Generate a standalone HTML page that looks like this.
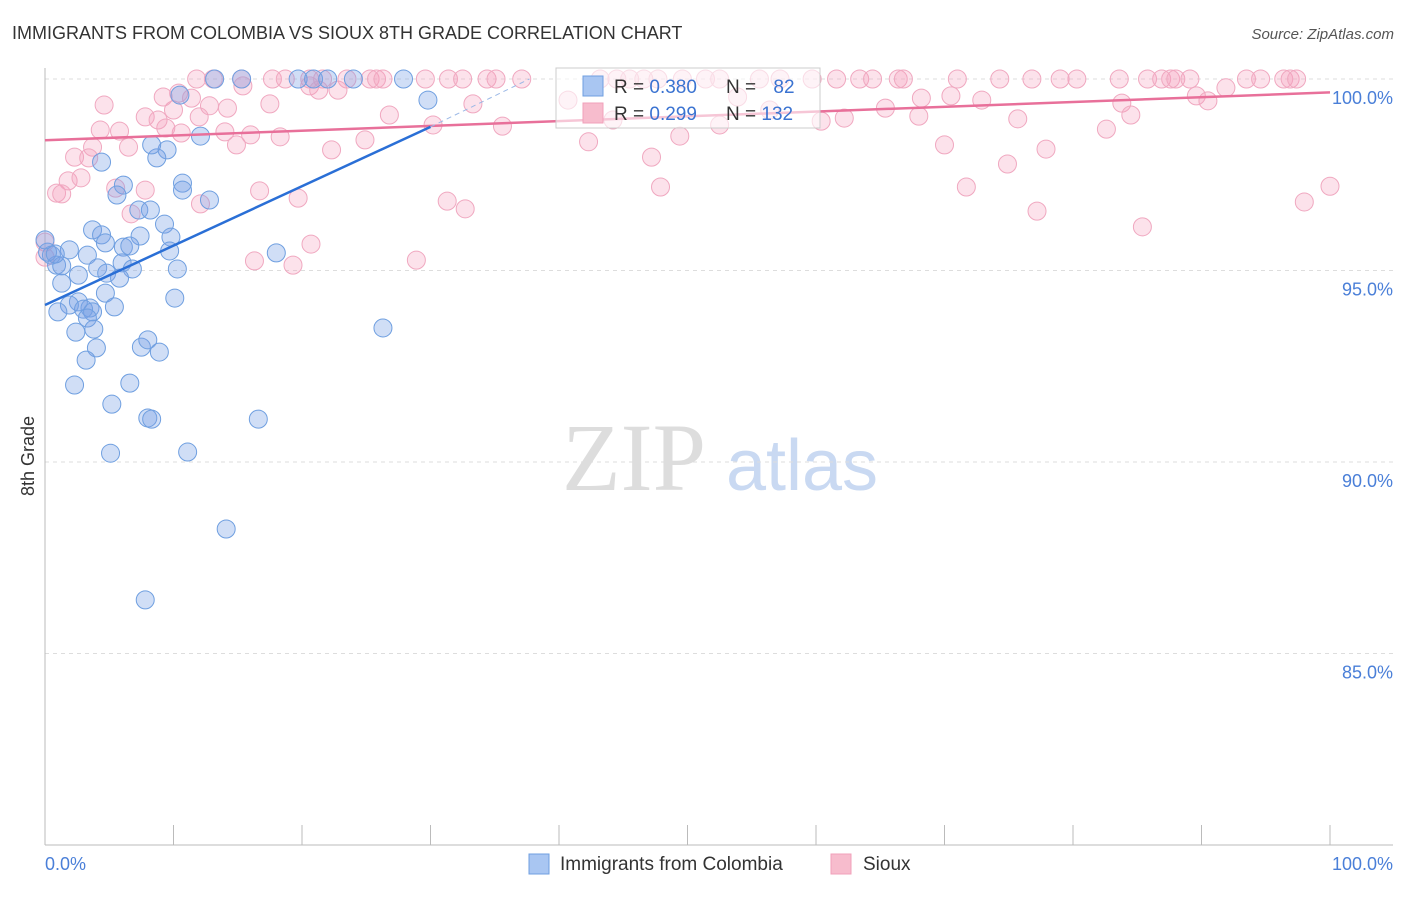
<!DOCTYPE html>
<html><head><meta charset="utf-8"><style>
body{margin:0;background:#fff;font-family:"Liberation Sans",sans-serif;}
</style></head><body>
<svg width="1406" height="892" xmlns="http://www.w3.org/2000/svg" style="font-family:'Liberation Sans',sans-serif">
<text x="12" y="39" font-size="18" fill="#333">IMMIGRANTS FROM COLOMBIA VS SIOUX 8TH GRADE CORRELATION CHART</text>
<text x="1394" y="39" font-size="15" fill="#555" font-style="italic" text-anchor="end">Source: ZipAtlas.com</text>
<g>
<text x="634" y="490" font-size="96" font-family="'Liberation Serif',serif" fill="#ddd" text-anchor="middle">ZIP</text>
<text x="802" y="490" font-size="72" fill="#c9d9f2" text-anchor="middle">atlas</text>
</g>
<g id="grid"></g>
<g id="axes"></g>
<text x="34" y="456" font-size="18" fill="#333" transform="rotate(-90 34 456)" text-anchor="middle">8th Grade</text>
<g id="pinkpts"></g>
<g id="bluepts"></g>
<g id="lines"></g>
<g>
<rect x="556" y="68" width="264" height="60" fill="#fff" fill-opacity="0.6" stroke="#ccc"/>
<rect x="583" y="76" width="20" height="20" fill="#a9c6f2" stroke="#6f9fe0"/>
<rect x="583" y="103" width="20" height="20" fill="#f7bccd" stroke="#f0a0ba"/>
<text x="614" y="93" font-size="19" fill="#333">R = <tspan fill="#3b73d1">0.380</tspan></text>
<text x="726" y="93" font-size="19" fill="#333">N = <tspan fill="#3b73d1" dx="12">82</tspan></text>
<text x="614" y="120" font-size="19" fill="#333">R = <tspan fill="#3b73d1">0.299</tspan></text>
<text x="726" y="120" font-size="19" fill="#333">N = <tspan fill="#3b73d1">132</tspan></text>
</g>
<g>
<rect x="529" y="854" width="20" height="20" fill="#a9c6f2" stroke="#6f9fe0"/>
<text x="560" y="870" font-size="19" fill="#333">Immigrants from Colombia</text>
<rect x="831" y="854" width="20" height="20" fill="#f7bccd" stroke="#f0a0ba"/>
<text x="863" y="870" font-size="19" fill="#333">Sioux</text>
</g>
</svg>
<script>
const yTicks=[100,95,90,85];
const yTickLabels=["100.0%","95.0%","90.0%","85.0%"];
const xTickLabels=["0.0%","100.0%"];
const blueX=[13.2,15.3,19.7,20.9,22.0,24.0,27.9,29.8,10.5,12.1,9.5,8.7,8.3,4.4,10.7,10.7,6.1,5.6,12.8,7.3,8.2,9.3,3.7,4.4,9.8,7.4,4.7,6.1,6.6,9.7,1.9,3.3,18.0,0.5,0.9,1.3,4.1,6.0,6.8,10.3,2.6,4.8,5.8,1.3,4.7,10.1,2.6,1.9,3.5,3.0,5.4,1.0,3.7,3.3,3.8,2.4,26.3,4.0,7.5,8.0,8.9,3.2,2.3,6.6,5.2,8.0,8.3,16.6,5.1,11.1,14.1,7.8,0.2,0.8,0];
const blueY=[100,100,100,100,100,100,100,99.45,99.58,98.51,98.15,97.94,98.28,97.83,97.28,97.10,97.23,96.97,96.84,96.58,96.58,96.21,96.06,95.93,95.87,95.90,95.72,95.61,95.64,95.51,95.54,95.40,95.46,95.40,95.14,95.12,95.07,95.20,95.04,95.04,94.88,94.93,94.80,94.67,94.41,94.28,94.18,94.10,94.02,93.99,94.05,93.92,93.92,93.76,93.47,93.39,93.50,92.98,93.00,93.19,92.87,92.66,92.01,92.06,91.51,91.15,91.12,91.12,90.23,90.26,88.25,86.40,95.48,95.43,95.80];
const pinkTopX=[11.8,13.1,15.3,17.7,18.7,20.6,21.6,23.5,25.3,25.8,26.3,29.6,31.4,32.5,34.4,35.1,37.1,43.2,44.5,45.5,46.6,47.7,49.6,51.4,52.5,55.6,57.2,59.7,61.6,63.4,64.4,66.4,66.8,71.0,74.3,76.8,79.0,80.3,83.6,85.8,86.9,87.6,88.0,89.1,93.5,94.6,96.4,96.9,97.4];
const pinkX=[4.6,10.4,11.4,15.4,17.5,20.6,21.3,22.8,12.8,14.2,10.0,7.8,8.8,4.3,5.8,3.7,6.5,10.6,9.4,14.0,14.9,16.0,18.3,2.3,3.4,0.9,1.8,2.8,1.3,5.5,6.7,7.8,12.1,16.7,19.7,22.3,24.9,26.8,30.2,33.3,35.6,31.3,32.7,40.7,42.3,44.2,47.2,47.9,49.4,53.9,56.4,60.4,62.2,65.4,68.0,68.2,70.0,70.5,71.7,72.9,74.9,75.7,77.9,77.2,82.6,83.8,84.5,85.4,89.6,90.5,91.9,98.0,100,20.7,19.3,16.3,28.9,0,0,9.2,12.0,52.5];
const pinkY=[99.32,99.63,99.50,99.82,99.35,99.82,99.71,99.71,99.30,99.24,99.19,99.01,98.93,98.67,98.64,98.22,98.22,98.59,98.72,98.62,98.28,98.54,98.49,97.96,97.94,97.02,97.34,97.42,97.00,97.15,96.48,97.10,96.74,97.08,96.89,98.15,98.41,99.06,98.80,99.35,98.77,96.81,96.61,99.45,98.36,98.93,97.96,97.18,98.51,99.53,99.19,98.90,98.98,99.24,99.03,99.50,98.28,99.56,97.18,99.45,97.78,98.96,98.17,96.55,98.69,99.37,99.06,96.14,99.56,99.43,99.77,96.79,97.2,95.69,95.14,95.25,95.27,95.74,95.35,99.53,99.01,98.80];
const blueTrend=[[0,94.1],[30,98.75]];
const blueDash=[[30,98.75],[37.7,100]];
const pinkTrend=[[0,98.4],[100,99.65]];
const NS="http://www.w3.org/2000/svg";
const xs=v=>45+v*12.85, ys=v=>79+(100-v)*38.3;
function mk(tag,attrs,parent){const e=document.createElementNS(NS,tag);for(const k in attrs)e.setAttribute(k,attrs[k]);document.getElementById(parent).appendChild(e);return e;}
yTicks.forEach((t,i)=>{
  const l=mk('line',{x1:45,x2:1393,y1:ys(t),y2:ys(t),stroke:'#ddd','stroke-dasharray':'4,4'},'grid');
  
  
  const tx=mk('text',{x:1393,y:ys(t)+25,'font-size':18,fill:'#4a7fd8','text-anchor':'end'},'grid');
  tx.textContent=yTickLabels[i];
  
  
});
mk('line',{x1:45,x2:45,y1:68,y2:845,stroke:'#bbb'},'axes');
mk('line',{x1:45,x2:1393,y1:845,y2:845,stroke:'#bbb'},'axes');
for(let i=0;i<=10;i++){const t=mk('line',{x1:xs(i*10),x2:xs(i*10),y1:825,y2:845,stroke:'#bbb'},'axes');}
[[0,'start',45],[100,'end',1393]].forEach((a,i)=>{const t=mk('text',{x:a[2],y:870,'font-size':18,fill:'#4a7fd8','text-anchor':a[1]},'axes');t.textContent=xTickLabels[i];});
function pt(x,y,fill,stroke,g){const c=mk('circle',{cx:xs(x),cy:ys(y),r:9,fill:fill,stroke:stroke,'stroke-width':1},g);
  
  }
pinkTopX.forEach(x=>pt(x,100,'rgba(244,160,188,0.3)','#f0a8c0','pinkpts'));
pinkX.forEach((x,i)=>pt(x,pinkY[i],'rgba(244,160,188,0.3)','#f0a8c0','pinkpts'));
blueX.forEach((x,i)=>pt(x,blueY[i],'rgba(120,160,230,0.35)','#6f9fe0','bluepts'));
function ln(p,color,dash,name){const l=mk('line',{x1:xs(p[0][0]),y1:ys(p[0][1]),x2:xs(p[1][0]),y2:ys(p[1][1]),stroke:color,'stroke-width':dash?1:2.5},'lines');if(dash)l.setAttribute('stroke-dasharray','5,4');
  
  }
ln(pinkTrend,'#e8709a',false,'sioux-trend');
ln(blueTrend,'#2a6fd6',false,'colombia-trend');
ln(blueDash,'#9bb8e6',true,'colombia-trend-extension');
</script>
</body></html>
